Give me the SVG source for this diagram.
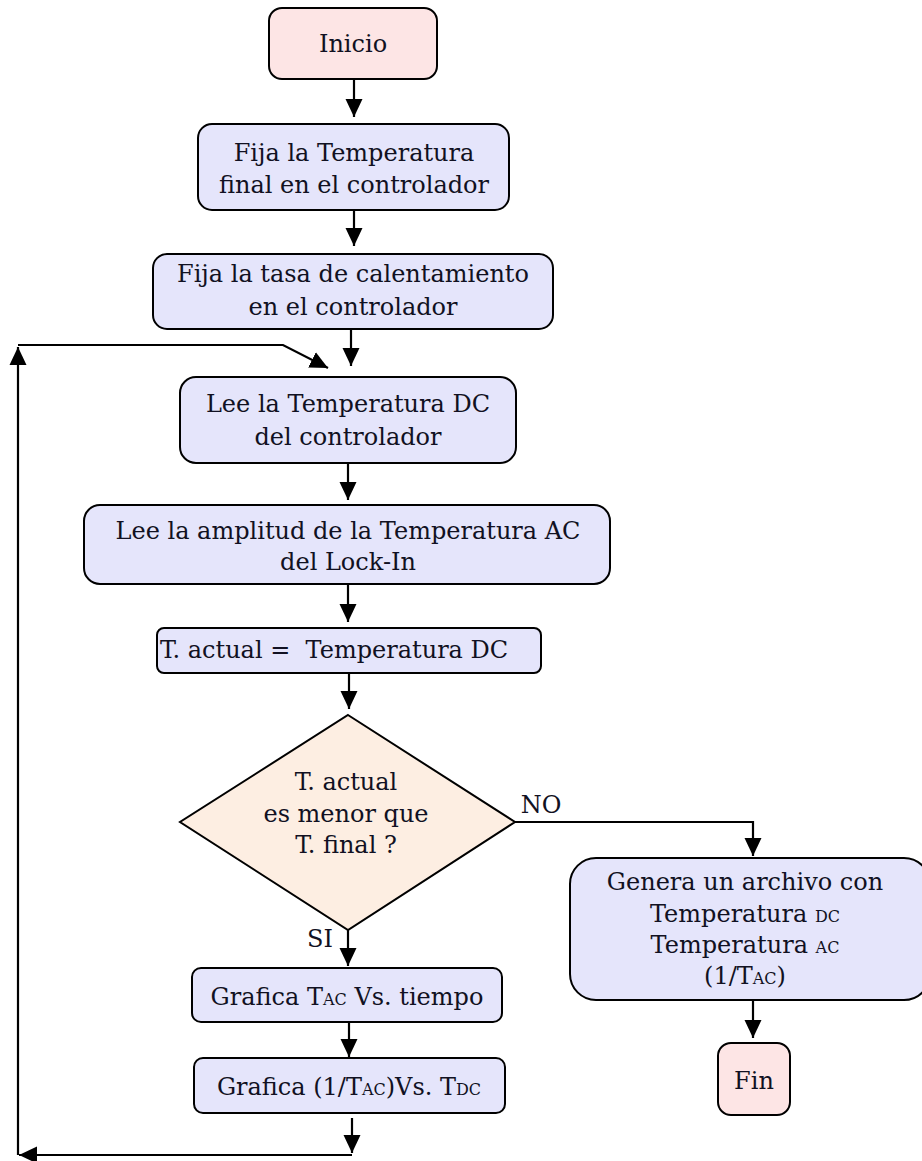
<svg xmlns="http://www.w3.org/2000/svg" width="922" height="1161" viewBox="0 0 922 1161">
<style>
.box{fill:#e5e5fb;stroke:#000;stroke-width:2}
.term{fill:#fde5e5;stroke:#000;stroke-width:2}
.dec{fill:#fdeee2;stroke:#000;stroke-width:2}
text{font-family:"DejaVu Serif","Liberation Serif",serif;font-size:24px;fill:#111122;text-anchor:middle}
.sub{font-size:16px}
.conn{fill:none;stroke:#000;stroke-width:2.2}
</style>
<defs>
<marker id="ah" markerUnits="userSpaceOnUse" markerWidth="20" markerHeight="20" viewBox="0 0 20 20" refX="18" refY="10" orient="auto">
<path d="M0,1.5 L18,10 L0,18.5 Z" fill="#000"/>
</marker>
</defs>
<g id="connectors">
<line class="conn" x1="354" y1="80" x2="354" y2="117" marker-end="url(#ah)"/>
<line class="conn" x1="354" y1="210" x2="354" y2="246" marker-end="url(#ah)"/>
<line class="conn" x1="351" y1="330" x2="351" y2="366" marker-end="url(#ah)"/>
<line class="conn" x1="348" y1="463" x2="348" y2="500" marker-end="url(#ah)"/>
<line class="conn" x1="348" y1="585" x2="348" y2="622" marker-end="url(#ah)"/>
<line class="conn" x1="349" y1="673" x2="349" y2="709" marker-end="url(#ah)"/>
<line class="conn" x1="348" y1="930" x2="348" y2="966" marker-end="url(#ah)"/>
<line class="conn" x1="349" y1="1022" x2="349" y2="1057" marker-end="url(#ah)"/>
<line class="conn" x1="352" y1="1118" x2="352" y2="1153" marker-end="url(#ah)"/>
<polyline class="conn" points="515,822 753,822 753,856" marker-end="url(#ah)"/>
<line class="conn" x1="753" y1="1000" x2="753" y2="1038" marker-end="url(#ah)"/>
<line class="conn" x1="352" y1="1155" x2="19" y2="1155" marker-end="url(#ah)"/>
<line class="conn" x1="18" y1="1155" x2="18" y2="347" marker-end="url(#ah)"/>
<polyline class="conn" points="18,345 283,345 328,368" marker-end="url(#ah)"/>
</g>
<g id="inicio">
<rect class="term" x="269" y="8" width="168" height="71" rx="13"/>
<text x="353" y="52">Inicio</text>
</g>
<g id="fija-temp">
<rect class="box" x="198" y="124" width="311" height="86" rx="14"/>
<text x="354" y="161">Fija la Temperatura</text>
<text x="354" y="193">final en el controlador</text>
</g>
<g id="fija-tasa">
<rect class="box" x="153" y="254" width="400" height="75" rx="14"/>
<text x="353" y="282">Fija la tasa de calentamiento</text>
<text x="353" y="315">en el controlador</text>
</g>
<g id="lee-dc">
<rect class="box" x="180" y="377" width="336" height="86" rx="16"/>
<text x="348" y="412">Lee la Temperatura DC</text>
<text x="348" y="445">del controlador</text>
</g>
<g id="lee-ac">
<rect class="box" x="84" y="505" width="526" height="79" rx="16"/>
<text x="348" y="539">Lee la amplitud de la Temperatura AC</text>
<text x="348" y="570">del Lock-In</text>
</g>
<g id="tactual">
<rect class="box" x="157" y="628" width="384" height="45" rx="7"/>
<text x="160" y="658" style="text-anchor:start" xml:space="preserve">T. actual =  Temperatura DC</text>
</g>
<g id="decision">
<polygon class="dec" points="348,715 515,822 348,930 180,822"/>
<text x="346" y="790">T. actual</text>
<text x="346" y="822">es menor que</text>
<text x="346" y="853">T. final ?</text>
<text x="541" y="813">NO</text>
<text x="320" y="947">SI</text>
</g>
<g id="genera">
<rect class="box" x="570" y="858" width="360" height="142" rx="26"/>
<text x="745" y="890">Genera un archivo con</text>
<text x="745" y="922">Temperatura <tspan class="sub">DC</tspan></text>
<text x="745" y="953">Temperatura <tspan class="sub">AC</tspan></text>
<text x="745" y="984">(1/T<tspan class="sub">AC</tspan>)</text>
</g>
<g id="fin">
<rect class="term" x="718" y="1043" width="72" height="72" rx="13"/>
<text x="754" y="1089">Fin</text>
</g>
<g id="grafica-tac">
<rect class="box" x="192" y="968" width="310" height="54" rx="9"/>
<text x="347" y="1005">Grafica T<tspan class="sub">AC</tspan> Vs. tiempo</text>
</g>
<g id="grafica-inv">
<rect class="box" x="194" y="1058" width="311" height="55" rx="9"/>
<text x="349" y="1095">Grafica (1/T<tspan class="sub">AC</tspan>)Vs. T<tspan class="sub">DC</tspan></text>
</g>
</svg>
